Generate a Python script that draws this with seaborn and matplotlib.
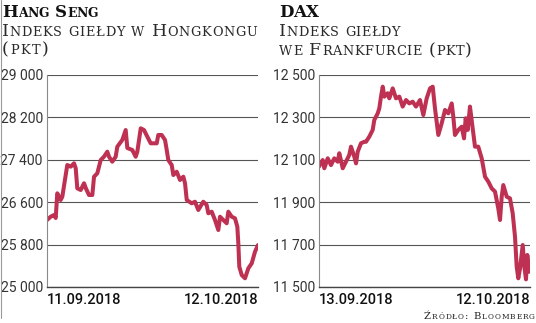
import matplotlib
matplotlib.use("Agg")
import matplotlib.pyplot as plt
import seaborn as sns
import pandas as pd
from matplotlib.transforms import IdentityTransform
from matplotlib.lines import Line2D
from matplotlib import font_manager as fm
from matplotlib.ft2font import FT2Font

# ---------------- data ----------------
hs_days = [0.0, 0.54, 1.03, 1.28, 1.51, 2.01, 2.25, 2.98, 3.48, 3.97, 4.22, 4.45, 4.95,
           5.44, 5.69, 6.17, 6.66, 6.91, 7.39, 7.89, 8.37, 8.86, 9.11, 9.59, 10.09, 10.33,
           11.06, 11.56, 11.80, 12.53, 13.03, 13.27, 13.77, 14.25, 14.74, 15.24, 15.72,
           16.12, 16.35, 16.85, 17.34, 17.59, 17.82, 18.32, 18.56, 19.06, 19.54, 20.03,
           20.28, 20.53, 21.26, 21.74, 22.23, 22.96, 23.46, 23.70, 24.20, 24.68, 25.17,
           25.42, 25.90, 26.40, 26.64, 27.14, 27.62, 27.96, 28.11, 28.25, 28.61, 29.09,
           29.58, 30.08, 30.56, 31.0]
hs_values = [26264, 26326, 26358, 26302, 26768, 26642, 26704, 27302, 27270, 27334, 27240,
             26862, 26830, 26957, 26868, 26736, 26736, 27081, 27145, 27396, 27458, 27553,
             27458, 27364, 27458, 27647, 27774, 27962, 27623, 27585, 27458, 27553, 27994,
             27962, 27836, 27711, 27711, 27711, 27868, 27868, 27774, 27585, 27396, 27302,
             27113, 27175, 27019, 27081, 26957, 26642, 26579, 26609, 26453, 26609, 26547,
             26391, 26421, 26264, 26075, 26326, 26264, 26202, 26421, 26326, 26296, 26138,
             25824, 25383, 25226, 25164, 25353, 25447, 25666, 25792]

dax_days = [0.0, 0.51, 0.73, 1.20, 1.65, 2.10, 2.57, 2.79, 3.26, 3.71, 4.16, 4.40, 4.85,
            5.09, 5.32, 5.77, 6.23, 6.46, 6.91, 7.38, 7.60, 8.07, 8.29, 8.52, 8.76, 8.98,
            9.44, 9.66, 10.13, 10.58, 11.04, 11.50, 11.96, 12.41, 12.88, 13.33, 13.88,
            14.34, 14.80, 15.26, 15.63, 15.94, 16.40, 16.86, 17.32, 17.77, 18.24, 18.46,
            18.69, 19.15, 19.61, 19.93, 20.16, 20.44, 20.75, 21.12, 21.44, 21.89, 22.36,
            22.82, 23.27, 23.74, 24.19, 24.64, 24.88, 25.11, 25.33, 25.80, 26.25, 26.62,
            26.94, 27.17, 27.39, 27.63, 28.00, 28.22, 28.45, 28.63, 28.90, 29.0]
dax_values = [12068, 12099, 12060, 12107, 12075, 12107, 12091, 12131, 12060, 12091, 12123,
              12162, 12115, 12083, 12138, 12178, 12185, 12185, 12209, 12241, 12288, 12319,
              12343, 12398, 12445, 12398, 12414, 12390, 12437, 12390, 12398, 12351, 12382,
              12366, 12374, 12351, 12382, 12311, 12390, 12437, 12445, 12343, 12217, 12272,
              12335, 12319, 12366, 12303, 12217, 12241, 12256, 12201, 12296, 12241, 12351,
              12249, 12162, 12162, 12107, 12020, 11997, 11965, 11950, 11871, 11816, 11926,
              11981, 11926, 11918, 11848, 11737, 11596, 11541, 11588, 11698, 11596, 11536,
              11651, 11572, 11612]

hs_yticks = [25000, 25800, 26600, 27400, 28200, 29000]
dax_yticks = [11500, 11700, 11900, 12100, 12300, 12500]
hs_xlabels = ["11.09.2018", "12.10.2018"]
dax_xlabels = ["13.09.2018", "12.10.2018"]

hs_title = "Hang Seng"
hs_sub = ["Indeks giełdy w Hongkongu", "(pkt)"]
dax_title = "DAX"
dax_sub = ["Indeks giełdy", "we Frankfurcie (pkt)"]
source = "Źródło: Bloomberg"

# ---------------- style ----------------
sns.set_style("white")
plt.rcParams["font.family"] = ["Roboto", "DejaVu Sans"]

LINE = "#BE3152"
W, H = 536, 323
fig = plt.figure(figsize=(W / 100, H / 100), dpi=100)
fig.patch.set_facecolor("white")


def fmt(v):
    return f"{v:,}".replace(",", " ")


def make_axes(left_px, right_px, days, values, yticks, xlabels):
    ax = fig.add_axes([left_px / W, 1 - 287 / H, (right_px - left_px) / W, 212 / H])
    df = pd.DataFrame({"day": days, "value": values})
    sns.lineplot(data=df, x="day", y="value", ax=ax, color=LINE, linewidth=2.9,
                 solid_joinstyle="round", solid_capstyle="round")
    ax.set_xlim(0, max(days))
    ax.set_ylim(yticks[0], yticks[-1])
    ax.set_yticks(yticks)
    ax.set_yticklabels([fmt(v) for v in yticks])
    ax.set_xticks([0, max(days)])
    ax.set_xticklabels(xlabels)
    labs = ax.get_xticklabels()
    labs[0].set_ha("left")
    labs[1].set_ha("right")
    for lab in labs:
        lab.set_fontweight("medium")
        lab.set_color("#111111")
        lab.set_fontsize(10.5)
    ax.tick_params(axis="both", length=0)
    ax.tick_params(axis="y", pad=3, labelsize=10, labelcolor="#333333")
    ax.tick_params(axis="x", pad=4)
    ax.set_xlabel("")
    ax.set_ylabel("")
    ax.yaxis.grid(True, color="#555555", linewidth=0.8)
    ax.set_axisbelow(True)
    for s in ["top", "right"]:
        ax.spines[s].set_visible(False)
    ax.spines["left"].set_color("#8a8a8a")
    ax.spines["left"].set_linewidth(0.8)
    ax.spines["bottom"].set_color("#444444")
    ax.spines["bottom"].set_linewidth(1.0)
    ax.set_facecolor("white")
    return ax


ax1 = make_axes(47, 258, hs_days, hs_values, hs_yticks, hs_xlabels)
ax2 = make_axes(319, 530, dax_days, dax_values, dax_yticks, dax_xlabels)

_font_cache = {}


def char_advance(ch, fs, family, weight):
    key = (family, weight)
    if key not in _font_cache:
        path = fm.findfont(fm.FontProperties(family=family, weight=weight))
        _font_cache[key] = FT2Font(path)
    f = _font_cache[key]
    f.set_size(fs, 100)
    g = f.load_char(ord(ch))
    return g.linearHoriAdvance / 65536.0


def smallcaps(x, y_top, text, size, weight="normal", color="#222222",
              family="DejaVu Serif", ratio=0.74, align="left", width=None):
    y = H - y_top
    chars = []
    for ch in text:
        small = ch.islower()
        s = ch.upper() if small else ch
        fs = size * ratio if small else size
        chars.append((s, fs, char_advance(s, fs, family, weight)))
    natural = sum(a for _, _, a in chars)
    track = 0.0
    if width is not None and len(chars) > 1:
        track = (width - natural) / (len(chars) - 1)
    total = natural + track * (len(chars) - 1)
    cx = x - total if align == "right" else x
    for s, fs, a in chars:
        if s != " ":
            fig.text(cx, y, s, transform=IdentityTransform(), fontsize=fs,
                     fontweight=weight, color=color, family=family,
                     ha="left", va="baseline")
        cx += a + track


smallcaps(2, 17, hs_title, 12, weight="bold", color="#111111")
smallcaps(2, 36, hs_sub[0], 12.5, color="#2a2a2a", width=255)
smallcaps(2, 54, hs_sub[1], 12.5, color="#2a2a2a", width=47)
smallcaps(279, 17, dax_title, 12, weight="bold", color="#111111")
smallcaps(279, 36, dax_sub[0], 12.5, color="#2a2a2a", width=121)
smallcaps(279, 55, dax_sub[1], 12.5, color="#2a2a2a", width=193)
smallcaps(535, 319, source, 7.2, color="#222222", align="right", width=111)

fig.add_artist(Line2D([0.6 / W, 0.6 / W], [1 - 318 / H, 1], color="#9a9a9a",
                      linewidth=0.8, transform=fig.transFigure))

fig.savefig("out.png", dpi=100, facecolor="white")
